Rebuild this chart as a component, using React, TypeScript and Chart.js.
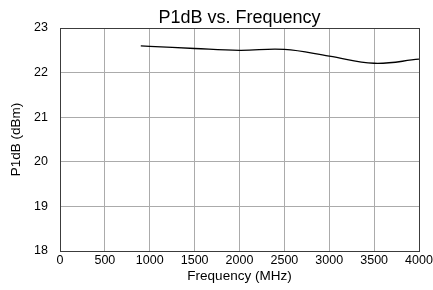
import React, { useEffect, useRef } from "react";
import { Chart, registerables } from "chart.js";

Chart.register(...registerables);

const chartTitle = "P1dB vs. Frequency";
const xTitle = "Frequency (MHz)";
const yTitle = "P1dB (dBm)";
const frequencies = [900, 1000, 1500, 2000, 2500, 3000, 3500, 4000];
const p1dbValues = [22.6, 22.59, 22.54, 22.5, 22.52, 22.37, 22.21, 22.3];
const xMin = 0;
const xMax = 4000;
const xStep = 500;
const yMin = 18;
const yMax = 23;
const yStep = 1;

const FONT = '"Liberation Sans", Arial, sans-serif';
const DARK = "#3c3c3c";
const GRID = "#ababab";

const framePlugin = {
  id: "frame",
  afterDraw(chart: any) {
    const { ctx, chartArea } = chart;
    const { left, right, top, bottom } = chartArea;
    ctx.save();
    ctx.strokeStyle = DARK;
    ctx.lineWidth = 1;
    ctx.strokeRect(Math.round(left) + 0.5, Math.round(top) + 0.5, Math.round(right - left), Math.round(bottom - top));
    ctx.fillStyle = "#000";
    ctx.font = `18px ${FONT}`;
    ctx.textAlign = "center";
    ctx.textBaseline = "alphabetic";
    ctx.fillText(chartTitle, (left + right) / 2, 23);
    ctx.restore();
  },
};

export default function App() {
  const ref = useRef<HTMLCanvasElement>(null);
  useEffect(() => {
    if (!ref.current) return;
    const chart = new Chart(ref.current, {
      type: "line",
      data: {
        datasets: [
          {
            data: frequencies.map((f, i) => ({ x: f, y: p1dbValues[i] })),
            borderColor: "#000",
            borderWidth: 1.3,
            pointRadius: 0,
            tension: 0.4,
            fill: false,
          },
        ],
      },
      options: {
        animation: false,
        responsive: false,
        devicePixelRatio: 1,
        layout: { padding: { top: 28, right: 14, bottom: 0, left: 0 } },
        plugins: { legend: { display: false }, title: { display: false }, tooltip: { enabled: false } },
        scales: {
          x: {
            type: "linear",
            min: xMin,
            max: xMax,
            ticks: {
              stepSize: xStep,
              color: "#000",
              font: { family: FONT, size: 12.5 },
              padding: 2,
              maxRotation: 0,
              callback: (v: any) => String(v),
            },
            grid: { color: GRID, drawTicks: false },
            border: { color: DARK },
            title: { display: true, text: xTitle, color: "#000", font: { family: FONT, size: 13.5 }, padding: { top: 0, bottom: 6 } },
            afterFit: (scale: any) => {
              scale.height = 39;
              scale.paddingRight = 0;
              scale.paddingLeft = 0;
            },
          },
          y: {
            min: yMin,
            max: yMax,
            ticks: { stepSize: yStep, color: "#000", font: { family: FONT, size: 12.5 }, padding: 12 },
            grid: { color: GRID, drawTicks: false },
            border: { color: DARK },
            title: { display: true, text: yTitle, color: "#000", font: { family: FONT, size: 13.5 }, padding: { top: 8, bottom: 0 } },
            afterFit: (scale: any) => {
              scale.width = 60;
            },
          },
        },
      },
      plugins: [framePlugin],
    });
    return () => chart.destroy();
  }, []);
  return (
    <div style={{ position: "absolute", left: 0, top: 0, width: 433, height: 290, background: "#fff" }}>
      <canvas ref={ref} width={433} height={290} style={{ width: 433, height: 290 }} />
    </div>
  );
}
